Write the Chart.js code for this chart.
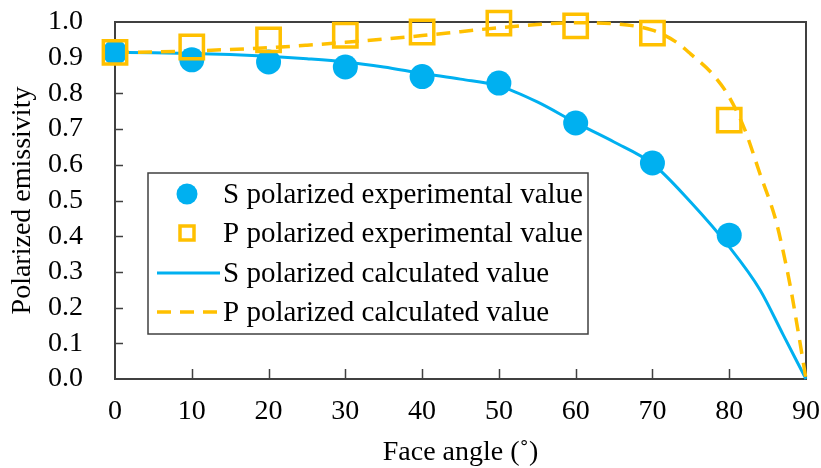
<!DOCTYPE html>
<html>
<head>
<meta charset="utf-8">
<script src="https://cdn.jsdelivr.net/npm/chart.js@4.4.1/dist/chart.umd.min.js"></script>
<style>
html,body{margin:0;padding:0;background:#fff;}
#wrap{width:821px;height:468px;position:relative;}
</style>
</head>
<body>
<div id="wrap"><canvas id="c" width="821" height="468"></canvas></div>
<script>
// ---- data ----
const expAngles = [0, 10, 20, 30, 40, 50, 60, 70, 80];
const sExperimental = [0.915, 0.894, 0.888, 0.874, 0.847, 0.829, 0.717, 0.605, 0.403];
const pExperimental = [0.915, 0.930, 0.950, 0.963, 0.972, 0.997, 0.989, 0.969, 0.725];

const sCalcAngles = [0, 5, 10, 15, 20, 25, 30, 35, 40, 45, 50, 55, 60, 65, 70, 75, 80, 84, 87, 90];
const sCalculated = [0.915, 0.914, 0.912, 0.909, 0.904, 0.897, 0.888, 0.874, 0.856, 0.840, 0.821, 0.776, 0.718, 0.664, 0.603, 0.495, 0.370, 0.250, 0.125, 0.0];

const pCalcAngles = [0, 5, 10, 15, 20, 25, 30, 35, 40, 45, 50, 55, 60, 65, 70, 73, 75, 78, 80, 82, 84, 86, 87, 88, 89, 90];
const pCalculated = [0.915, 0.916, 0.919, 0.923, 0.928, 0.935, 0.943, 0.952, 0.962, 0.973, 0.984, 0.993, 0.998, 0.995, 0.977, 0.945, 0.910, 0.850, 0.790, 0.700, 0.575, 0.450, 0.360, 0.255, 0.130, 0.0];

const xTickValues = [0, 10, 20, 30, 40, 50, 60, 70, 80, 90];
const yTickValues = [0, 0.1, 0.2, 0.3, 0.4, 0.5, 0.6, 0.7, 0.8, 0.9, 1.0];

const seriesLabels = [
  'S polarized experimental value',
  'P polarized experimental value',
  'S polarized calculated value',
  'P polarized calculated value'
];
const xTitle = 'Face angle (\u02DA)';
const yTitle = 'Polarized emissivity';

// ---- styles ----
const BLUE = '#00B0F0';
const GOLD = '#FFC000';
const AXIS = '#404040';
const FONT = "'Liberation Serif', 'Times New Roman', serif";

const toPts = (xs, ys) => xs.map((x, i) => ({x: x, y: ys[i]}));

const framePlugin = {
  id: 'frame',
  beforeDatasetsDraw(chart) {
    const {ctx, chartArea: a, scales} = chart;
    ctx.save();
    ctx.strokeStyle = AXIS;
    ctx.lineWidth = 2;
    ctx.strokeRect(a.left, a.top, a.right - a.left, a.bottom - a.top);
    ctx.lineWidth = 1.5;
    ctx.beginPath();
    yTickValues.forEach(v => {
      if (v <= 0 || v >= 1) return;
      const y = Math.round(scales.y.getPixelForValue(v)) + 0.5;
      ctx.moveTo(a.left, y); ctx.lineTo(a.left + 8, y);
    });
    xTickValues.forEach(v => {
      if (v <= 0 || v >= 90) return;
      const x = Math.round(scales.x.getPixelForValue(v)) + 0.5;
      ctx.moveTo(x, a.bottom); ctx.lineTo(x, a.bottom - 10);
    });
    ctx.stroke();
    ctx.restore();
  }
};

const legendPlugin = {
  id: 'boxLegend',
  afterDraw(chart) {
    const {ctx, chartArea: a} = chart;
    const ds = chart.data.datasets;
    const L = a.left + 33, T = a.top + 151, W = 440, H = 161;
    ctx.save();
    ctx.fillStyle = '#fff';
    ctx.fillRect(L, T, W, H);
    ctx.strokeStyle = AXIS;
    ctx.lineWidth = 1.5;
    ctx.strokeRect(L, T, W, H);
    const rows = [21, 60, 100, 139];
    const mx = L + 39;
    ctx.font = '29px ' + FONT;
    ctx.textBaseline = 'middle';
    ctx.textAlign = 'left';
    ds.forEach((d, i) => {
      const y = T + rows[i];
      if (i === 0) {
        ctx.fillStyle = d.pointBackgroundColor;
        ctx.beginPath(); ctx.arc(mx, y, 10.5, 0, Math.PI * 2); ctx.fill();
      } else if (i === 1) {
        ctx.strokeStyle = d.pointBorderColor; ctx.lineWidth = 3.5;
        ctx.strokeRect(mx - 7, y - 7, 14, 14);
      } else {
        ctx.strokeStyle = d.borderColor; ctx.lineWidth = d.borderWidth;
        ctx.setLineDash(d.borderDash || []);
        ctx.beginPath(); ctx.moveTo(L + 9, y); ctx.lineTo(L + 72, y); ctx.stroke();
        ctx.setLineDash([]);
      }
      ctx.fillStyle = '#000';
      ctx.fillText(d.label, L + 75, y + 1);
    });
    ctx.restore();
  }
};

new Chart(document.getElementById('c'), {
  type: 'scatter',
  data: {
    datasets: [
      {
        label: seriesLabels[0],
        data: toPts(expAngles, sExperimental),
        showLine: false,
        pointStyle: 'circle',
        pointRadius: 12.5,
        pointBackgroundColor: BLUE,
        pointBorderWidth: 0,
        order: 1,
        clip: false
      },
      {
        label: seriesLabels[1],
        data: toPts(expAngles, pExperimental),
        showLine: false,
        pointStyle: 'rect',
        pointRadius: 16.5,
        pointBackgroundColor: 'rgba(0,0,0,0)',
        pointBorderColor: GOLD,
        pointBorderWidth: 3.5,
        order: 0,
        clip: false
      },
      {
        label: seriesLabels[2],
        data: toPts(sCalcAngles, sCalculated),
        showLine: true,
        pointRadius: 0,
        borderColor: BLUE,
        borderWidth: 3,
        cubicInterpolationMode: 'monotone',
        order: 3,
        clip: false
      },
      {
        label: seriesLabels[3],
        data: toPts(pCalcAngles, pCalculated),
        showLine: true,
        pointRadius: 0,
        borderColor: GOLD,
        borderWidth: 3.5,
        borderDash: [14, 9],
        cubicInterpolationMode: 'monotone',
        order: 2,
        clip: false
      }
    ]
  },
  options: {
    responsive: false,
    animation: false,
    events: [],
    devicePixelRatio: 1,
    layout: {autoPadding: false, padding: {top: 22, right: 15, left: 0, bottom: 0}},
    plugins: {legend: {display: false}, tooltip: {enabled: false}},
    scales: {
      x: {
        type: 'linear', min: 0, max: 90,
        afterBuildTicks: s => { s.ticks = xTickValues.map(v => ({value: v})); },
        afterFit: s => { s.height = 89; s.paddingLeft = 0; s.paddingRight = 0; },
        grid: {display: false, drawTicks: false},
        border: {display: false},
        ticks: {font: {family: FONT, size: 28}, color: '#000', padding: 16, maxRotation: 0, autoSkip: false},
        title: {display: true, text: xTitle, color: '#000', font: {family: FONT, size: 28, lineHeight: 1}, padding: {top: 0, bottom: 1}}
      },
      y: {
        type: 'linear', min: 0, max: 1,
        afterBuildTicks: s => { s.ticks = yTickValues.map(v => ({value: v})); },
        afterFit: s => { s.width = 115; s.paddingTop = 0; s.paddingBottom = 0; },
        grid: {display: false, drawTicks: false},
        border: {display: false},
        ticks: {font: {family: FONT, size: 28}, color: '#000', padding: 32, autoSkip: false, callback: v => Number(v).toFixed(1)},
        title: {display: true, text: yTitle, color: '#000', font: {family: FONT, size: 28, lineHeight: 1}, padding: {top: 9, bottom: 0}}
      }
    }
  },
  plugins: [framePlugin, legendPlugin]
});
</script>
</body>
</html>
